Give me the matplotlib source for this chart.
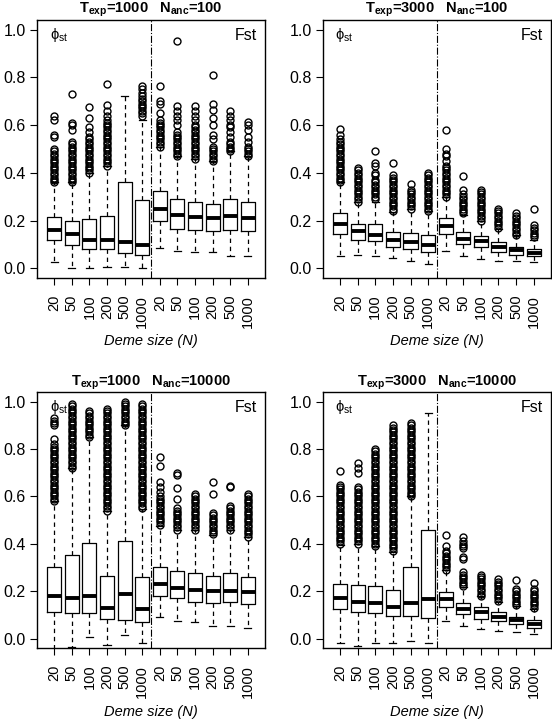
import matplotlib
matplotlib.use("Agg")
import matplotlib.pyplot as plt

plt.rcParams['font.family'] = ['Liberation Sans', 'DejaVu Sans']
plt.rcParams['mathtext.fontset'] = 'custom'
plt.rcParams['mathtext.rm'] = 'Liberation Sans'
plt.rcParams['mathtext.it'] = 'Liberation Sans:italic'
plt.rcParams['mathtext.bf'] = 'Liberation Sans:bold'

# --------------------------------------------------
# data
# --------------------------------------------------
deme = ["20", "50", "100", "200", "500", "1000"] * 2

titles = [r"$\mathbf{T_{exp}}$=1000   $\mathbf{N_{anc}}$=100",
          r"$\mathbf{T_{exp}}$=3000   $\mathbf{N_{anc}}$=100",
          r"$\mathbf{T_{exp}}$=1000   $\mathbf{N_{anc}}$=10000",
          r"$\mathbf{T_{exp}}$=3000   $\mathbf{N_{anc}}$=10000"]

# panel 1: Texp=1000 Nanc=100
p1_lo = [0.026, 0.0, 0.0, 0.005, 0.005, 0.0, 0.087, 0.072, 0.07, 0.068, 0.05, 0.054]
p1_q1 = [0.12, 0.10, 0.08, 0.08, 0.066, 0.055, 0.198, 0.167, 0.16, 0.155, 0.159, 0.156]
p1_med = [0.16, 0.142, 0.121, 0.121, 0.11, 0.10, 0.25, 0.222, 0.215, 0.21, 0.219, 0.21]
p1_q3 = [0.215, 0.20, 0.208, 0.218, 0.36, 0.286, 0.322, 0.289, 0.28, 0.27, 0.29, 0.28]
p1_hi = [0.36, 0.36, 0.40, 0.43, 0.72, 0.62, 0.51, 0.47, 0.46, 0.45, 0.49, 0.47]
p1_out = [
    [0.36, 0.37, 0.38, 0.39, 0.40, 0.41, 0.42, 0.43, 0.44, 0.45, 0.46, 0.47, 0.48, 0.49, 0.50,
     0.55, 0.56, 0.62, 0.64],
    [0.36, 0.37, 0.38, 0.39, 0.40, 0.41, 0.42, 0.43, 0.44, 0.45, 0.46, 0.47, 0.48, 0.49, 0.50,
     0.51, 0.52, 0.53, 0.58, 0.60, 0.61, 0.73],
    [0.40, 0.41, 0.42, 0.43, 0.44, 0.45, 0.46, 0.47, 0.48, 0.49, 0.50, 0.51, 0.52, 0.53, 0.54,
     0.55, 0.57, 0.59, 0.63, 0.675],
    [0.43, 0.44, 0.45, 0.46, 0.47, 0.48, 0.49, 0.50, 0.51, 0.52, 0.53, 0.54, 0.55, 0.56, 0.57,
     0.58, 0.59, 0.60, 0.61, 0.62, 0.64, 0.66, 0.685, 0.77],
    [],
    [0.64, 0.65, 0.66, 0.67, 0.68, 0.69, 0.70, 0.71, 0.72, 0.735, 0.75, 0.765],
    [0.51, 0.52, 0.53, 0.54, 0.55, 0.56, 0.57, 0.58, 0.59, 0.60, 0.61, 0.62, 0.65, 0.69, 0.70,
     0.765],
    [0.47, 0.48, 0.49, 0.50, 0.51, 0.52, 0.53, 0.54, 0.55, 0.56, 0.57, 0.60, 0.62, 0.64, 0.66,
     0.68, 0.95],
    [0.46, 0.47, 0.48, 0.49, 0.50, 0.51, 0.52, 0.53, 0.54, 0.55, 0.56, 0.57, 0.58, 0.59, 0.60,
     0.62, 0.64, 0.66, 0.68],
    [0.45, 0.46, 0.47, 0.48, 0.49, 0.50, 0.51, 0.54, 0.56, 0.60, 0.63, 0.665, 0.69, 0.81],
    [0.49, 0.50, 0.51, 0.52, 0.53, 0.55, 0.57, 0.59, 0.60, 0.62, 0.64, 0.66],
    [0.47, 0.48, 0.49, 0.50, 0.51, 0.53, 0.55, 0.58, 0.60, 0.615],
]

# panel 2: Texp=3000 Nanc=100
p2_lo = [0.05, 0.056, 0.05, 0.042, 0.033, 0.02, 0.072, 0.05, 0.04, 0.033, 0.03, 0.025]
p2_q1 = [0.145, 0.118, 0.113, 0.09, 0.082, 0.07, 0.146, 0.101, 0.09, 0.07, 0.058, 0.05]
p2_med = [0.187, 0.155, 0.141, 0.12, 0.109, 0.098, 0.177, 0.123, 0.113, 0.09, 0.077, 0.066]
p2_q3 = [0.233, 0.187, 0.185, 0.152, 0.15, 0.141, 0.209, 0.153, 0.135, 0.112, 0.09, 0.08]
p2_hi = [0.36, 0.28, 0.28, 0.236, 0.25, 0.24, 0.30, 0.225, 0.20, 0.163, 0.14, 0.12]
p2_out = [
    [0.36, 0.37, 0.38, 0.39, 0.40, 0.41, 0.42, 0.43, 0.44, 0.45, 0.46, 0.47, 0.48, 0.49, 0.50,
     0.51, 0.52, 0.53, 0.54, 0.56, 0.585],
    [0.28, 0.29, 0.30, 0.31, 0.32, 0.33, 0.34, 0.35, 0.36, 0.37, 0.38, 0.39, 0.40, 0.41, 0.42],
    [0.29, 0.30, 0.31, 0.32, 0.33, 0.34, 0.35, 0.36, 0.37, 0.39, 0.40, 0.43, 0.44, 0.49],
    [0.24, 0.25, 0.26, 0.27, 0.28, 0.29, 0.30, 0.31, 0.32, 0.33, 0.34, 0.35, 0.36, 0.37, 0.38,
     0.39, 0.44],
    [0.25, 0.26, 0.27, 0.28, 0.29, 0.30, 0.31, 0.32, 0.33, 0.355],
    [0.24, 0.25, 0.26, 0.27, 0.28, 0.29, 0.30, 0.31, 0.32, 0.33, 0.34, 0.35, 0.36, 0.37, 0.38,
     0.39, 0.40],
    [0.30, 0.31, 0.32, 0.33, 0.34, 0.35, 0.36, 0.37, 0.38, 0.39, 0.40, 0.41, 0.42, 0.43, 0.45,
     0.47, 0.48, 0.50, 0.58],
    [0.23, 0.24, 0.25, 0.26, 0.27, 0.28, 0.29, 0.30, 0.31, 0.33, 0.385],
    [0.20, 0.21, 0.22, 0.23, 0.24, 0.25, 0.26, 0.27, 0.28, 0.29, 0.30, 0.31, 0.32, 0.33],
    [0.17, 0.18, 0.19, 0.20, 0.21, 0.22, 0.23, 0.24, 0.25],
    [0.14, 0.15, 0.16, 0.17, 0.18, 0.19, 0.20, 0.21, 0.22, 0.23],
    [0.13, 0.14, 0.15, 0.16, 0.17, 0.18, 0.25],
]

# panel 3: Texp=1000 Nanc=10000
p3_lo = [-0.06, -0.036, 0.006, -0.026, 0.016, -0.02, 0.09, 0.075, 0.068, 0.055, 0.055, 0.045]
p3_q1 = [0.113, 0.106, 0.107, 0.081, 0.08, 0.07, 0.18, 0.17, 0.155, 0.15, 0.155, 0.147]
p3_med = [0.178, 0.171, 0.18, 0.129, 0.19, 0.125, 0.23, 0.213, 0.206, 0.20, 0.20, 0.197]
p3_q3 = [0.30, 0.353, 0.405, 0.265, 0.41, 0.26, 0.30, 0.285, 0.277, 0.265, 0.277, 0.26]
p3_hi = [0.58, 0.72, 0.85, 0.54, 0.90, 0.545, 0.473, 0.46, 0.46, 0.435, 0.46, 0.43]
p3_out = [
    [0.58, 0.59, 0.60, 0.61, 0.62, 0.63, 0.64, 0.65, 0.66, 0.67, 0.68, 0.69, 0.70, 0.71, 0.72,
     0.73, 0.74, 0.75, 0.76, 0.77, 0.78, 0.79, 0.80, 0.81, 0.82, 0.84, 0.90, 0.91, 0.92, 0.93],
    [0.72, 0.73, 0.74, 0.75, 0.76, 0.77, 0.78, 0.79, 0.80, 0.81, 0.82, 0.83, 0.84, 0.85, 0.86,
     0.87, 0.88, 0.89, 0.90, 0.91, 0.92, 0.93, 0.94, 0.95, 0.96, 0.97, 0.98, 0.99],
    [0.85, 0.86, 0.87, 0.88, 0.89, 0.90, 0.91, 0.92, 0.93, 0.94, 0.95, 0.96],
    [0.54, 0.55, 0.56, 0.57, 0.58, 0.59, 0.60, 0.61, 0.62, 0.63, 0.64, 0.65, 0.66, 0.67, 0.68,
     0.69, 0.70, 0.71, 0.72, 0.73, 0.74, 0.75, 0.76, 0.77, 0.78, 0.79, 0.80, 0.81, 0.82, 0.83,
     0.84, 0.85, 0.86, 0.87, 0.88, 0.89, 0.90, 0.91, 0.92, 0.93, 0.94, 0.95, 0.96, 0.97],
    [0.90, 0.91, 0.92, 0.93, 0.94, 0.95, 0.96, 0.97, 0.98, 0.99, 1.00],
    [0.55, 0.56, 0.57, 0.58, 0.59, 0.60, 0.61, 0.62, 0.63, 0.64, 0.65, 0.66, 0.67, 0.68, 0.69,
     0.70, 0.71, 0.72, 0.73, 0.74, 0.75, 0.76, 0.77, 0.78, 0.79, 0.80, 0.81, 0.82, 0.83, 0.84,
     0.85, 0.86, 0.87, 0.88, 0.89, 0.90, 0.91, 0.92, 0.93, 0.94, 0.95, 0.96, 0.97, 0.98, 0.99],
    [0.48, 0.49, 0.50, 0.51, 0.52, 0.53, 0.54, 0.55, 0.56, 0.57, 0.58, 0.59, 0.60, 0.62, 0.64,
     0.66, 0.73, 0.765],
    [0.46, 0.47, 0.48, 0.49, 0.50, 0.51, 0.52, 0.53, 0.54, 0.55, 0.59, 0.635, 0.69, 0.70],
    [0.46, 0.47, 0.48, 0.49, 0.50, 0.51, 0.52, 0.53, 0.54, 0.55, 0.56, 0.57, 0.58, 0.59, 0.60,
     0.61],
    [0.44, 0.45, 0.46, 0.47, 0.48, 0.49, 0.50, 0.51, 0.52, 0.53, 0.61, 0.66],
    [0.46, 0.47, 0.48, 0.49, 0.50, 0.51, 0.52, 0.53, 0.54, 0.55, 0.56, 0.64, 0.645],
    [0.43, 0.44, 0.45, 0.46, 0.47, 0.48, 0.49, 0.50, 0.51, 0.52, 0.53, 0.54, 0.55, 0.56, 0.57,
     0.58, 0.59, 0.60, 0.61],
]

# panel 4: Texp=3000 Nanc=10000
p4_lo = [-0.02, -0.03, -0.02, -0.02, -0.01, -0.02, 0.075, 0.052, 0.04, 0.03, 0.027, 0.02]
p4_q1 = [0.125, 0.112, 0.107, 0.096, 0.096, 0.088, 0.133, 0.103, 0.083, 0.073, 0.06, 0.045]
p4_med = [0.171, 0.155, 0.15, 0.135, 0.15, 0.168, 0.165, 0.123, 0.114, 0.093, 0.079, 0.063]
p4_q3 = [0.23, 0.228, 0.22, 0.205, 0.303, 0.458, 0.195, 0.152, 0.132, 0.114, 0.093, 0.079]
p4_hi = [0.394, 0.40, 0.39, 0.365, 0.60, 0.95, 0.29, 0.218, 0.18, 0.155, 0.138, 0.124]
p4_out = [
    [0.40, 0.41, 0.42, 0.43, 0.44, 0.45, 0.46, 0.47, 0.48, 0.49, 0.50, 0.51, 0.52, 0.53, 0.54,
     0.55, 0.56, 0.57, 0.58, 0.59, 0.60, 0.61, 0.62, 0.63, 0.64, 0.65, 0.705],
    [0.40, 0.41, 0.42, 0.43, 0.44, 0.45, 0.46, 0.47, 0.48, 0.49, 0.50, 0.51, 0.52, 0.53, 0.54,
     0.55, 0.56, 0.57, 0.58, 0.59, 0.60, 0.61, 0.62, 0.63, 0.64, 0.70, 0.72, 0.74],
    [0.39, 0.40, 0.41, 0.42, 0.43, 0.44, 0.45, 0.46, 0.47, 0.48, 0.49, 0.50, 0.51, 0.52, 0.53,
     0.54, 0.55, 0.56, 0.57, 0.58, 0.59, 0.60, 0.61, 0.62, 0.63, 0.64, 0.65, 0.66, 0.67, 0.68,
     0.69, 0.70, 0.71, 0.72, 0.73, 0.74, 0.75, 0.76, 0.77, 0.78, 0.79, 0.80],
    [0.37, 0.38, 0.39, 0.40, 0.41, 0.42, 0.43, 0.44, 0.45, 0.46, 0.47, 0.48, 0.49, 0.50, 0.51,
     0.52, 0.53, 0.54, 0.55, 0.56, 0.57, 0.58, 0.59, 0.60, 0.61, 0.62, 0.63, 0.64, 0.65, 0.66,
     0.67, 0.68, 0.69, 0.70, 0.71, 0.72, 0.73, 0.74, 0.75, 0.76, 0.77, 0.78, 0.79, 0.80, 0.81,
     0.82, 0.83, 0.84, 0.85, 0.86, 0.87, 0.88, 0.89, 0.90],
    [0.60, 0.61, 0.62, 0.63, 0.64, 0.65, 0.66, 0.67, 0.68, 0.69, 0.70, 0.71, 0.72, 0.73, 0.74,
     0.75, 0.76, 0.77, 0.78, 0.79, 0.80, 0.81, 0.82, 0.83, 0.84, 0.85, 0.86, 0.87, 0.88, 0.89,
     0.90, 0.91],
    [],
    [0.29, 0.30, 0.31, 0.32, 0.33, 0.34, 0.35, 0.36, 0.37, 0.39, 0.435],
    [0.22, 0.23, 0.24, 0.25, 0.26, 0.27, 0.28, 0.335, 0.345, 0.38, 0.39, 0.40, 0.41, 0.43],
    [0.18, 0.19, 0.20, 0.21, 0.22, 0.23, 0.24, 0.25, 0.26, 0.27],
    [0.16, 0.17, 0.18, 0.19, 0.20, 0.21, 0.22, 0.23, 0.24, 0.25],
    [0.14, 0.15, 0.16, 0.17, 0.18, 0.19, 0.20, 0.21, 0.245],
    [0.13, 0.14, 0.15, 0.16, 0.17, 0.18, 0.19, 0.20, 0.21, 0.235],
]

panels = [
    (p1_lo, p1_q1, p1_med, p1_q3, p1_hi, p1_out),
    (p2_lo, p2_q1, p2_med, p2_q3, p2_hi, p2_out),
    (p3_lo, p3_q1, p3_med, p3_q3, p3_hi, p3_out),
    (p4_lo, p4_q1, p4_med, p4_q3, p4_hi, p4_out),
]

# axes rectangles in figure fractions
rects = [[0.067, 0.6134, 0.413, 0.3588], [0.585, 0.6134, 0.413, 0.3588],
         [0.067, 0.0987, 0.413, 0.3560], [0.585, 0.0987, 0.413, 0.3560]]


# --------------------------------------------------
# one panel
# --------------------------------------------------
def draw_panel(ax, title, lo, q1, med, q3, hi, out):
    stats = []
    for i in range(len(med)):
        stats.append(dict(med=med[i], q1=q1[i], q3=q3[i],
                          whislo=lo[i], whishi=hi[i], fliers=out[i]))
    pos = list(range(1, len(med) + 1))
    ax.bxp(stats, positions=pos, widths=0.8, capwidths=0.4,
           boxprops=dict(color="black", lw=0.9),
           whiskerprops=dict(color="black", lw=0.9, linestyle=(0, (3.5, 3))),
           capprops=dict(color="black", lw=0.9),
           medianprops=dict(color="black", lw=2.8, solid_capstyle="butt"),
           flierprops=dict(marker="o", mfc="none", mec="black", ms=5, mew=1.0,
                           linestyle="none"))
    ax.axvline(6.5, color="black", lw=0.8, linestyle="-.")
    ax.set_xlim(0.02, 12.98)
    ax.set_ylim(-0.04, 1.04)
    ax.set_yticks([0.0, 0.2, 0.4, 0.6, 0.8, 1.0])
    ax.set_yticklabels(["0.0", "0.2", "0.4", "0.6", "0.8", "1.0"], fontsize=11.5)
    ax.set_xticks(pos)
    ax.set_xticklabels(deme, rotation=90, fontsize=10.5)
    ax.tick_params(direction="out", length=5, width=0.8)
    ax.tick_params(axis="x", pad=7)
    ax.tick_params(axis="y", pad=3)
    for s in ax.spines.values():
        s.set_linewidth(1)
    ax.set_title(title, fontsize=10.5, fontweight="bold", pad=5)
    ax.set_xlabel("Deme size (N)", fontsize=10.5, style="italic", labelpad=5)
    ax.text(0.055, 0.94, "\u03d5$_{\\rm st}$", transform=ax.transAxes,
            fontsize=10.5, ha="left", va="center")
    ax.text(0.965, 0.94, "Fst", transform=ax.transAxes,
            fontsize=11.5, ha="right", va="center")


fig = plt.figure(figsize=(5.52, 7.19), dpi=100)
for k in range(4):
    ax = fig.add_axes(rects[k])
    draw_panel(ax, titles[k], *panels[k])

fig.savefig("out.png", dpi=100)
